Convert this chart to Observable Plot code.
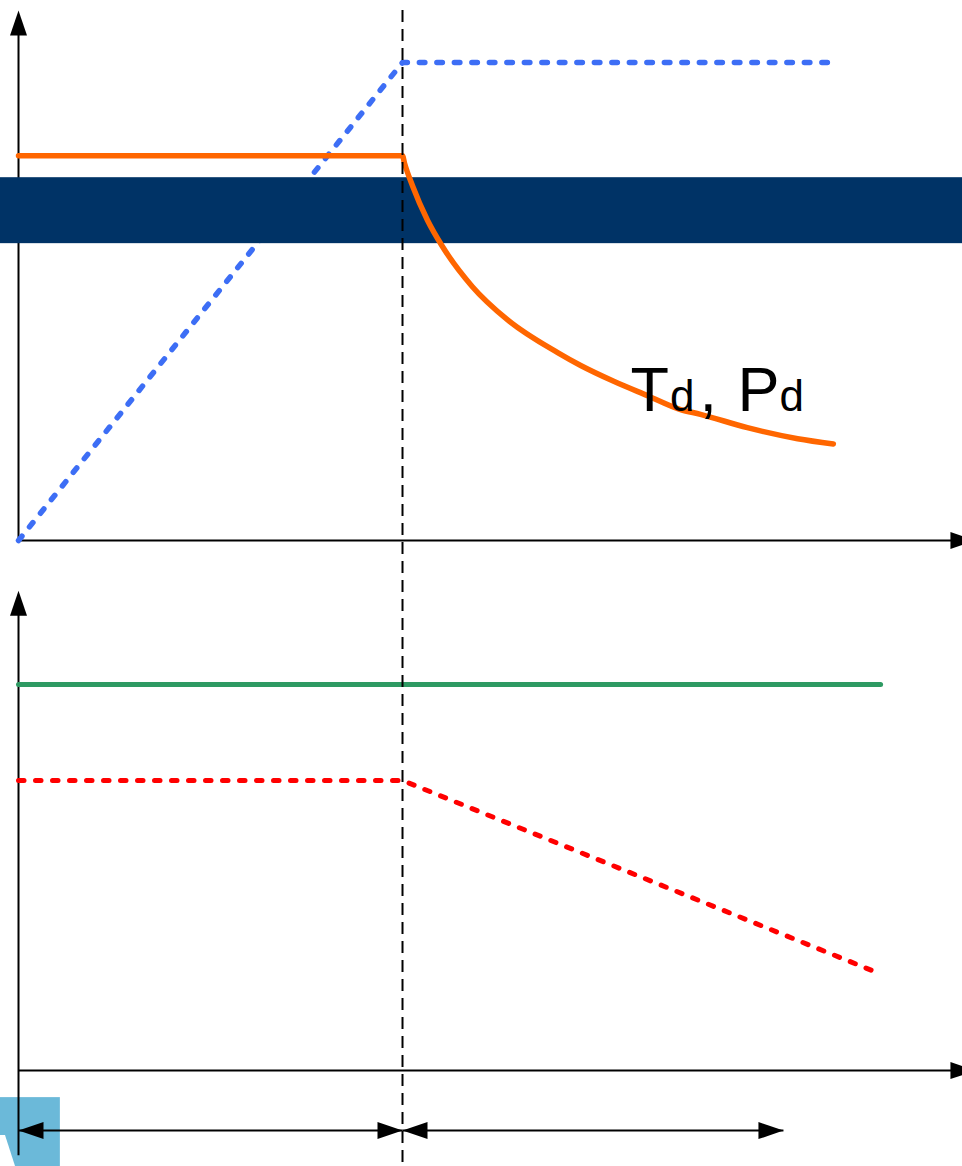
<!DOCTYPE html>
<html>
<head>
<meta charset="utf-8">
<script src="https://cdn.jsdelivr.net/npm/d3@7"></script>
<script src="https://cdn.jsdelivr.net/npm/@observablehq/plot@0.6"></script>
<style>
  html, body { margin: 0; padding: 0; background: #fff; overflow: hidden; }
  #chart svg { display: block; }
</style>
</head>
<body>
<div id="chart"></div>
<script>
// Time runs left to right in arbitrary units; the switch-over happens at t = 10.
const switchTime = 10;

// Upper panel: blue quantity ramps up, then holds.
const rampTime  = [0, 10, 21.2];
const rampValue = [0, 100, 100];

// Upper panel: Td, Pd holds, then decays after the switch.
const decayTime  = [0, 10, 10.05, 10.26, 10.65, 11.04, 11.82, 12.73, 14.04, 14.64, 15.50, 16.38, 17.24, 17.76, 18.98, 20.29, 21.22];
const decayValue = [80.5, 80.5, 79.0, 74.2, 67.0, 61.5, 53.1, 46.2, 39.3, 36.6, 33.3, 30.3, 27.4, 26.4, 23.6, 21.3, 20.2];

// Horizontal band across the upper panel.
const bandLow  = 62.1;
const bandHigh = 75.9;

// Lower panel (values measured from the lower panel's own baseline).
const levelTime  = [0, 22.45];
const levelValue = [80.8, 80.8];
const fallTime   = [0, 10, 22.24];
const fallValue  = [60.7, 60.7, 20.9];

// Interval markers under the lower panel.
const spanStart = [0, 10];
const spanEnd   = [10, 19.92];

// Label on the decaying curve.
const labelText  = "Td, Pd";
const labelParts = ["T", "d", ", ", "P", "d"];
const labelAt    = {t: 15.94, v: 27.0};

// ---- layout of the shared frame ----
const xDomain = [-0.469, 24.583];
const yDomain = [-130.96, 112.97];
const lowerBase = -110.9;            // baseline of the lower panel in frame units
const lift = v => v + lowerBase;
const upperAxisTip = 110.9;
const lowerAxisTip = 100.4;
const lowerAxisFoot = -17.8;
const xAxisTip = 24.92;
const spanLevel = -12.55;

// Corner badge (bottom-left)
const badgeX = [xDomain[0], 1.09];
const badgeY = [-5.65, -20.06];
const badgeMarkT = [-0.469, -0.339, -0.078];
const badgeMarkV = [-13.6, -13.6, -20.06];

const colors = {
  ramp: "#3d6ef5",
  decay: "#ff6600",
  band: "#003366",
  level: "#2e9a63",
  fall: "#ff0000",
  badge: "#6bb9d9",
  ink: "#000000"
};

// Filled arrowheads whose tip sits on the data point.
const HL = 25, HW = 8.5;
const headUp    = {draw(c) { c.moveTo(0, 0); c.lineTo(HW, HL); c.lineTo(-HW, HL); c.closePath(); }};
const headRight = {draw(c) { c.moveTo(0, 0); c.lineTo(-HL, HW); c.lineTo(-HL, -HW); c.closePath(); }};
const headLeft  = {draw(c) { c.moveTo(0, 0); c.lineTo(HL, HW); c.lineTo(HL, -HW); c.closePath(); }};

const arrowStyle = {fill: colors.ink, stroke: "none"};
const axisStyle = {stroke: colors.ink, strokeWidth: 2};

const svg = Plot.plot({
  width: 962,
  height: 1166,
  margin: 0,
  x: {domain: xDomain, axis: null},
  y: {domain: yDomain, axis: null},
  style: {background: "white", overflow: "hidden"},
  marks: [
    // badge
    Plot.rect([0], {x1: badgeX[0], x2: badgeX[1], y1: lift(badgeY[0]), y2: lift(badgeY[1]), fill: colors.badge}),
    Plot.areaY(badgeMarkT, {x: badgeMarkT, y1: lift(badgeY[1]), y2: badgeMarkV.map(lift), fill: "white"}),

    // upper panel axes
    Plot.ruleX([0], {y1: 0, y2: upperAxisTip - 2, ...axisStyle}),
    Plot.ruleY([0], {x1: 0, x2: xAxisTip, ...axisStyle}),
    Plot.dot([0], {x: 0, y: upperAxisTip, symbol: headUp, ...arrowStyle}),
    Plot.dot([0], {x: xAxisTip, y: 0, symbol: headRight, ...arrowStyle}),

    // ramp (dotted blue)
    Plot.line(rampValue, {x: rampTime, y: rampValue, stroke: colors.ramp, strokeWidth: 5.5,
      strokeDasharray: "5.5 12", strokeLinecap: "round", strokeLinejoin: "round"}),

    // band
    Plot.rect([0], {y1: bandLow, y2: bandHigh, fill: colors.band}),

    // Td, Pd curve
    Plot.line(decayValue, {x: decayTime, y: decayValue, curve: "monotone-x",
      stroke: colors.decay, strokeWidth: 5.5, strokeLinecap: "round"}),

    // lower panel axes
    Plot.ruleX([0], {y1: lift(lowerAxisFoot), y2: lift(lowerAxisTip - 2), ...axisStyle}),
    Plot.ruleY([0], {x1: 0, x2: xAxisTip, y: lift(0), ...axisStyle}),
    Plot.dot([0], {x: 0, y: lift(lowerAxisTip), symbol: headUp, ...arrowStyle}),
    Plot.dot([0], {x: xAxisTip, y: lift(0), symbol: headRight, ...arrowStyle}),

    // level (green) and falling (dotted red)
    Plot.line(levelValue, {x: levelTime, y: levelValue.map(lift), stroke: colors.level, strokeWidth: 5, strokeLinecap: "round"}),
    Plot.line(fallValue, {x: fallTime, y: fallValue.map(lift), stroke: colors.fall, strokeWidth: 5,
      strokeDasharray: "5.5 11.5", strokeLinecap: "round", strokeLinejoin: "round"}),

    // interval markers
    Plot.link(spanStart, {x1: spanStart, x2: spanEnd, y1: lift(spanLevel), y2: lift(spanLevel), ...axisStyle}),
    Plot.dot(spanStart, {x: spanStart, y: lift(spanLevel), symbol: headLeft, ...arrowStyle}),
    Plot.dot(spanEnd, {x: spanEnd, y: lift(spanLevel), symbol: headRight, ...arrowStyle}),

    // switch-over marker
    Plot.ruleX([switchTime], {y1: upperAxisTip, y2: yDomain[0], stroke: colors.ink, strokeWidth: 2, strokeDasharray: "12 7"}),

    // label
    Plot.text([labelText], {x: labelAt.t, y: labelAt.v, text: d => d, textAnchor: "start", lineAnchor: "bottom",
      fontSize: 63, fontFamily: "Liberation Sans, Arial, Helvetica, sans-serif", fill: colors.ink})
  ]
});

// Subscripted label: big capitals, smaller "d", with a little extra spacing
const partShift = [0, 1, 5, 3, 0];
d3.select(svg).selectAll("text")
  .filter(function () { return this.textContent === labelText; })
  .each(function () {
    const t = d3.select(this);
    t.text(null).attr("xml:space", "preserve");
    labelParts.forEach((part, i) => {
      t.append("tspan")
        .attr("font-size", part === "d" ? 44 : 63)
        .attr("dx", partShift[i])
        .text(part);
    });
  });

document.getElementById("chart").appendChild(svg);
</script>
</body>
</html>
